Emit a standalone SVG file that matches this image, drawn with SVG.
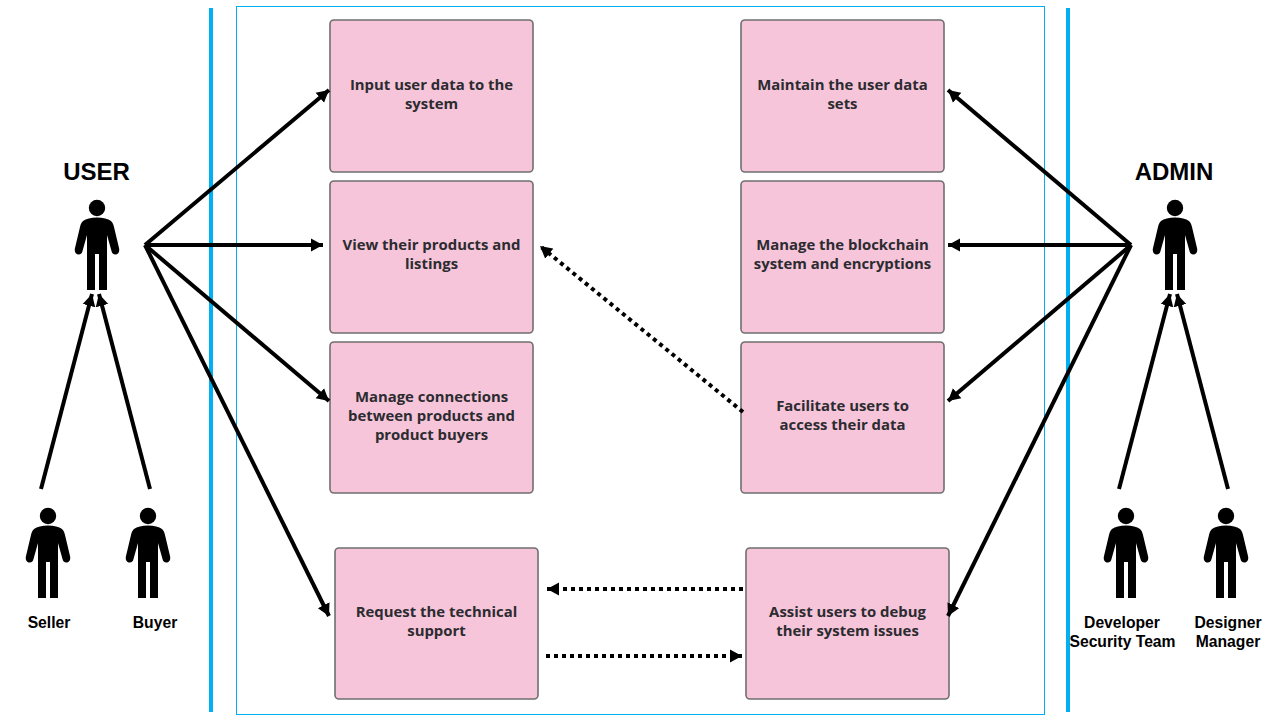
<svg xmlns="http://www.w3.org/2000/svg" xmlns:xlink="http://www.w3.org/1999/xlink" width="1280" height="720" viewBox="0 0 1280 720">
<style>
.box{fill:#f6c5da;stroke:#6f6f6f;stroke-width:1.6}
.bt{font-family:"Open Sans","Liberation Sans",sans-serif;font-weight:700;font-size:14.9px;fill:#2b2b30;text-anchor:middle}
.lb{font-family:"Liberation Sans",Arial,sans-serif;font-weight:700;font-size:15.7px;fill:#000;text-anchor:middle}
.tt{font-family:"Liberation Sans",Arial,sans-serif;font-weight:700;font-size:24px;fill:#000;text-anchor:middle}
.ln{fill:none;stroke:#000;stroke-width:4;marker-end:url(#ah)}
.dt{fill:none;stroke:#000;stroke-width:4;stroke-dasharray:4 4;marker-end:url(#ah)}
.bar{stroke:#00b0f0;stroke-width:4;fill:none}
</style>
<defs>
<marker id="ah" markerUnits="userSpaceOnUse" markerWidth="14" markerHeight="14" refX="12" refY="7" orient="auto"><path d="M0,0.500 L12,7 L0,13.500 Z" fill="#000"/></marker>
<g id="person"><circle cx="0" cy="0" r="8.2"/><path d="M0,9.500 C6,9.500 11,11 14,13 C16,15 16.500,17 17,19 L22,40 C23,44 21,46.500 18.500,46.500 C16,46.500 15,45 14.500,43 L10,27 L10,82 L2,82 L2,46 L-2,46 L-2,82 L-10,82 L-10,27 L-14.500,43 C-15,45 -16,46.500 -18.500,46.500 C-21,46.500 -23,44 -22,40 L-17,19 C-16.500,17 -16,15 -14,13 C-11,11 -6,9.500 0,9.500 Z"/></g>
</defs>
<rect width="1280" height="720" fill="#fff"/>
<g id="frame">
<path class="bar" d="M211,8 V712"/>
<path class="bar" d="M1068,8 V712"/>
<rect x="236.500" y="6.500" width="808" height="708" fill="none" stroke="#00b0f0" stroke-width="1"/>
</g>
<g id="node-input"><rect class="box" x="330" y="20" width="203" height="152" rx="4"/><text class="bt" x="431.500" y="90">Input user data to the</text><text class="bt" x="431.500" y="109">system</text></g>
<g id="node-view"><rect class="box" x="330" y="181" width="203" height="152" rx="4"/><text class="bt" x="431.500" y="250">View their products and</text><text class="bt" x="431.500" y="269">listings</text></g>
<g id="node-manage-conn"><rect class="box" x="330" y="342" width="203" height="151" rx="4"/><text class="bt" x="431.500" y="402">Manage connections</text><text class="bt" x="431.500" y="421">between products and</text><text class="bt" x="431.500" y="440">product buyers</text></g>
<g id="node-request"><rect class="box" x="335" y="548" width="203" height="151" rx="4"/><text class="bt" x="436.500" y="617">Request the technical</text><text class="bt" x="436.500" y="636">support</text></g>
<g id="node-maintain"><rect class="box" x="741" y="20" width="203" height="152" rx="4"/><text class="bt" x="842.500" y="90">Maintain the user data</text><text class="bt" x="842.500" y="109">sets</text></g>
<g id="node-blockchain"><rect class="box" x="741" y="181" width="203" height="152" rx="4"/><text class="bt" x="842.500" y="250">Manage the blockchain</text><text class="bt" x="842.500" y="269">system and encryptions</text></g>
<g id="node-facilitate"><rect class="box" x="741" y="342" width="203" height="151" rx="4"/><text class="bt" x="842.500" y="411">Facilitate users to</text><text class="bt" x="842.500" y="430">access their data</text></g>
<g id="node-assist"><rect class="box" x="746" y="548" width="203" height="151" rx="4"/><text class="bt" x="847.500" y="617">Assist users to debug</text><text class="bt" x="847.500" y="636">their system issues</text></g>
<g id="connectors">
<path class="ln" d="M145,245 L329,90"/>
<path class="ln" d="M145,245 L323,245"/>
<path class="ln" d="M145,245 L329,401"/>
<path class="ln" d="M145,245 L329,616"/>
<path class="ln" d="M1131,245 L948,90"/>
<path class="ln" d="M1131,245 L948,245"/>
<path class="ln" d="M1131,245 L948,401"/>
<path class="ln" d="M1131,245 L948,616"/>
<path class="dt" d="M743,412 L540,246"/>
<path class="dt" d="M743,589 L547,589"/>
<path class="dt" d="M546,656 L742,656"/>
<path class="ln" d="M41,489 L92,294"/>
<path class="ln" d="M150,489 L99,294"/>
<path class="ln" d="M1119,489 L1170,294"/>
<path class="ln" d="M1228,489 L1177,294"/>
</g>
<g id="actor-user"><use xlink:href="#person" href="#person" x="97" y="208"/><text class="tt" x="96.500" y="180">USER</text></g>
<g id="actor-admin"><use xlink:href="#person" href="#person" x="1175" y="208"/><text class="tt" x="1174" y="180">ADMIN</text></g>
<g id="actor-seller"><use xlink:href="#person" href="#person" x="48" y="516"/><text class="lb" x="49" y="628">Seller</text></g>
<g id="actor-buyer"><use xlink:href="#person" href="#person" x="148" y="516"/><text class="lb" x="155" y="628">Buyer</text></g>
<g id="actor-dev"><use xlink:href="#person" href="#person" x="1126" y="516"/><text class="lb" x="1122" y="628">Developer</text><text class="lb" x="1122.500" y="647">Security Team</text></g>
<g id="actor-designer"><use xlink:href="#person" href="#person" x="1226" y="516"/><text class="lb" x="1228" y="628">Designer</text><text class="lb" x="1228" y="647">Manager</text></g>
</svg>
